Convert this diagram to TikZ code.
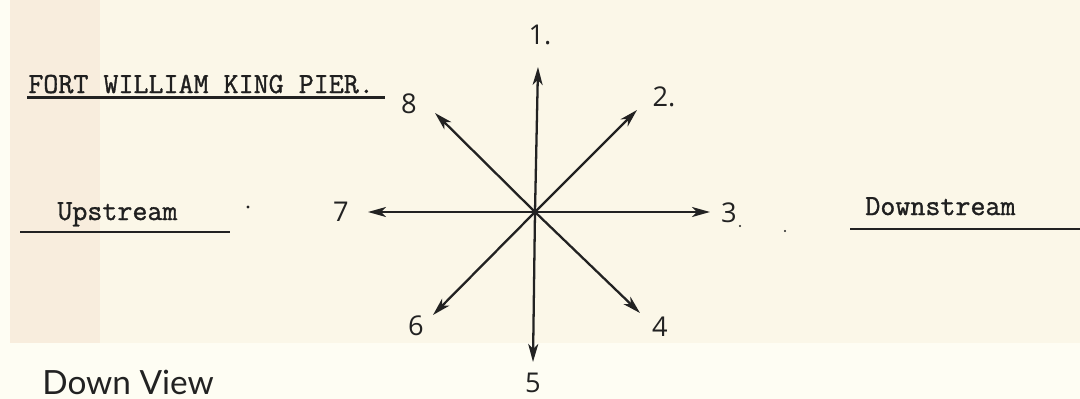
\documentclass[tikz,border=0pt]{standalone}
\usepackage{fontspec}
\usepackage{tikz}
\usetikzlibrary{arrows.meta}
\newfontfamily\typew[FakeBold=1.2]{Latin Modern Mono}
\newfontfamily\handw{Open Sans}
\newfontfamily\captw{Lato}
\definecolor{paper}{HTML}{FBF7E8}
\definecolor{margin}{HTML}{FEFDF3}
\definecolor{edgestrip}{HTML}{F8EDDD}
\definecolor{ink}{HTML}{222222}

\tikzset{
  pointer/.style={ink, line width=1.3pt, -{Stealth[length=3.6mm,width=2mm,inset=1mm]}},
  typed/.style={inner sep=0pt, anchor=base west, text=ink!90!black, font=\typew\fontsize{16.6}{19}\selectfont},
  digit/.style={inner sep=0pt, text=ink, font=\handw\fontsize{15.5}{18}\selectfont},
  rulerline/.style={ink, line width=1.3pt}
}

\begin{document}
\begin{tikzpicture}[x=0.02cm, y=-0.02cm]
\useasboundingbox (0,0) rectangle (1080,399);
% paper
\fill[margin] (0,0) rectangle (1080,399);
\fill[paper] (10,0) rectangle (1080,343);
\fill[edgestrip] (10,0) rectangle (100,343);
% headings
\node[typed] (title) at (28,93) {FORT WILLIAM KING PIER.};
\draw[rulerline] (27,97.5) -- (385,97.5);
\node[typed] (up) at (57,220) {Upstream};
\draw[rulerline] (20,232) -- (230,232);
\node[typed] (down) at (865,215) {Downstream};
\draw[rulerline] (850,229) -- (1080,229);
\node[inner sep=0pt, anchor=base west, text=ink, font=\captw\fontsize{19}{22}\selectfont] (view) at (42,394) {Down View};
% specks
\fill[ink] (248,207) circle (1.6);
\fill[ink] (740,226) circle (1.2);
\fill[ink] (785,231) circle (1.2);
% the eight directions
\coordinate (c) at (535,212);
\foreach \n/\ex/\ey/\lx/\ly/\t in {1/538/67/540/35/1., 2/637/110/664/97/2., 3/710/212/729/213/3, 4/640/313/660/327/4,
  5/533/362/533/383/5, 6/433/315/416/326/6, 7/368/212/341/212/7, 8/435/113/409/104/8}
{
  \coordinate (e\n) at (\ex,\ey);
  \node[digit] (d\n) at (\lx,\ly) {\t};
  \draw[pointer] (c) -- (e\n);
}
\end{tikzpicture}
\end{document}
